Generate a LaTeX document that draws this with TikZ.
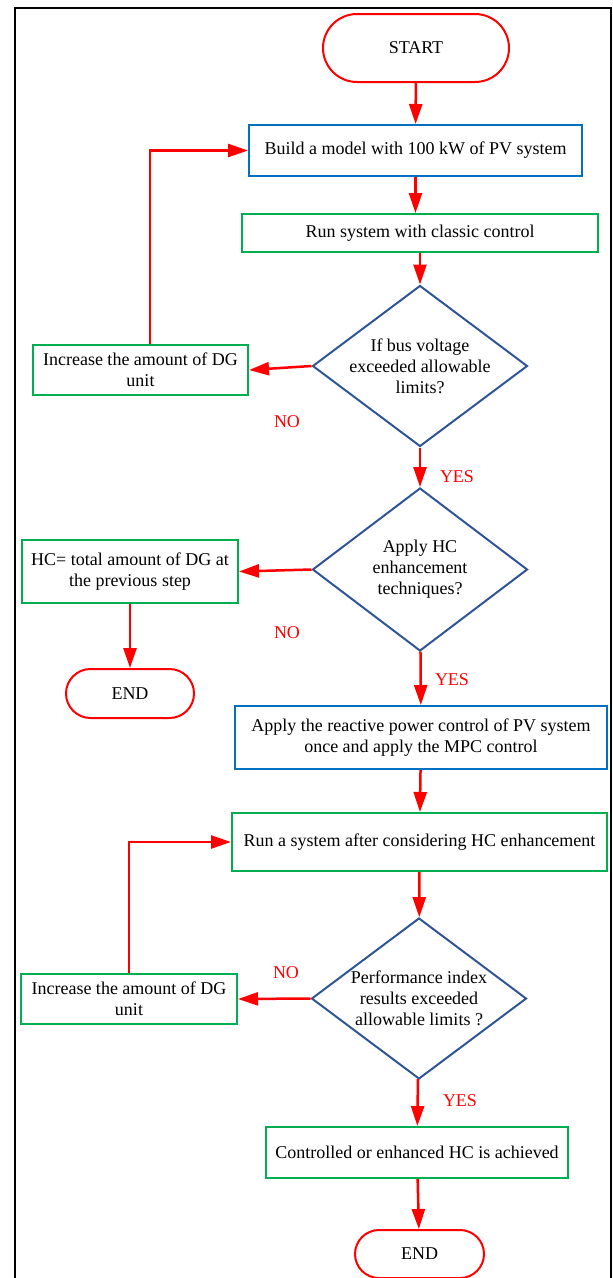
\documentclass[tikz,border=0pt]{standalone}
\usepackage{fontspec}
\setmainfont{Liberation Serif}
\usetikzlibrary{arrows.meta}
\usetikzlibrary{positioning}
\usetikzlibrary{shapes.misc}
\usetikzlibrary{shapes.geometric}
\definecolor{flowred}{HTML}{FF0000}
\definecolor{procgreen}{HTML}{00B050}
\definecolor{procblue}{HTML}{0070C0}
\definecolor{condblue}{HTML}{2F5597}
\tikzset {
  flow node/.style = {
    draw,
    line width = 2pt,
    inner sep = 0pt,
    align = center
  },
  % start and end symbol
  term/.style = {
    flow node,
    draw = flowred,
    rounded rectangle
  },
  % process step
  proc/.style = {
    flow node,
    rectangle,
    draw = procgreen
  },
  % control step
  procb/.style = {
    proc,
    draw = procblue
  },
  % decision
  cond/.style = {
    flow node,
    diamond,
    draw = condblue,
    shape aspect = 1.335,
    inner sep = -2pt,
    minimum width = 215pt,
    minimum height = 161pt
  }
}
\tikzset {
  % connector with a filled tip
  arr/.style = {
    draw = flowred,
    line width = 2.5pt,
    -{Triangle[length=20pt,width=13pt]}
  },
  % yes / no label
  answer/.style = {
    text = flowred
  }
}

\begin{document}
\begin{tikzpicture}[x=1pt, y=-1pt, font=\fontsize{18pt}{21pt}\selectfont]
    \useasboundingbox (0,0) rectangle (613,1278);
    \draw[line width=2pt] (15,1290) |- (611,8) -- (611,1290);

    \node[term, minimum width=186pt, minimum height=68pt] (start) at (416,48) {START};
    \node[procb, minimum width=333pt, minimum height=51pt] (build) at (415.5,150.5) {Build a model with 100 kW of PV system};
    \node[proc, minimum width=356pt, minimum height=38pt] (classic) at (420,233) {Run system with classic control};
    \node[cond] (volt) at (420,366) {If bus voltage\\exceeded allowable\\limits?};
    \node[proc, minimum width=215pt, minimum height=50pt] (incdg) at (140.5,370) {Increase the amount of DG\\unit};
    \node[cond, minimum height=163pt] (apply) at (420,569.5) {Apply HC\\enhancement\\techniques?};
    \node[proc, minimum width=216pt, minimum height=63pt] (hc) at (130,571.5) {HC= total amount of DG at\\the previous step};
    \node[term, minimum width=128pt, minimum height=49pt] (endA) at (130,693.5) {END};
    \node[procb, minimum width=372pt, minimum height=63pt] (mpc) at (421,737.5) {Apply the reactive power control of PV system\\once and apply the MPC control};
    \node[proc, minimum width=375pt, minimum height=58pt] (runhc) at (419.5,842) {Run a system after considering HC enhancement};
    \node[cond] (perf) at (419,998.5) {Performance index\\results exceeded\\allowable limits ?};
    \node[proc, minimum width=216pt, minimum height=50pt] (incdgb) at (129,999) {Increase the amount of DG\\unit};
    \node[proc, minimum width=302pt, minimum height=51pt] (done) at (417,1152.5) {Controlled or enhanced HC is achieved};
    \node[term, minimum width=129pt, minimum height=48pt] (endB) at (419.5,1254) {END};

    \node[answer] (noA) at (287,422) {NO};
    \node[answer] (yesA) at (457,477) {YES};
    \node[answer] (noB) at (287,633) {NO};
    \node[answer] (yesB) at (452,680) {YES};
    \node[answer] (noC) at (286,973) {NO};
    \node[answer] (yesC) at (460,1101) {YES};

    \draw[arr] (start) -- (build);
    \draw[arr] (build.south) -- (build.south |- classic.north);
    \draw[arr] (classic) -- (volt);
    \draw[arr] (volt.west) -- (incdg.east);
    \draw[arr] ([xshift=9.5pt]incdg.north) |- (build.west);
    \draw[arr] (volt) -- (apply);
    \draw[arr] (apply.west) -- (hc.east);
    \draw[arr] (hc) -- (endA);
    \draw[arr] (apply) -- (mpc);
    \draw[arr] (mpc) -- (runhc);
    \draw[arr] (runhc) -- (perf);
    \draw[arr] (perf.west) -- (incdgb.east);
    \draw[arr] (incdgb.north) |- (runhc.west);
    \draw[arr] (perf) -- (done);
    \draw[arr] (done) -- (endB);
  \end{tikzpicture}
\end{document}
